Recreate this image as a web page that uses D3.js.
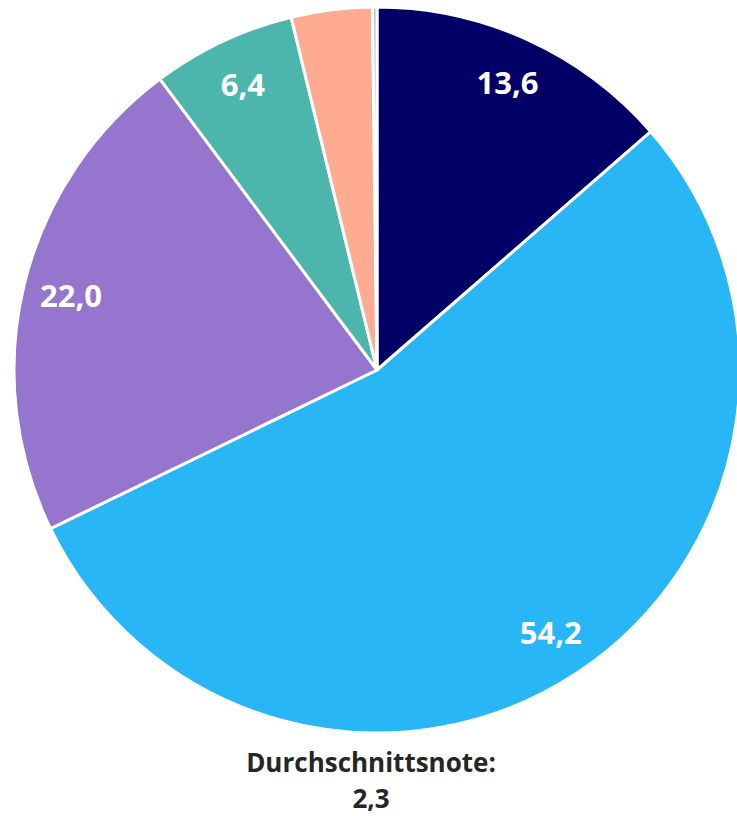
<!DOCTYPE html>
<html>
<head>
<meta charset="utf-8">
<script src="https://cdn.jsdelivr.net/npm/d3@7"></script>
<style>
    html, body { margin: 0; padding: 0; background: #fff; }
    svg { display: block; }
</style>
</head>
<body>
<div id="chart"></div>
<script>
// Slice data, clockwise from 12 o'clock
const categories = ['1', '2', '3', '4', '5', '6'];
const values = [13.6, 54.2, 22.0, 6.4, 3.6, 0.2];
const labels = ['13,6', '54,2', '22,0', '6,4', '', ''];
const colors = ['#000066', '#29B6F6', '#9575CD', '#4DB6AC', '#FFAB91', '#BDBDBD'];
const footerLines = ['Durchschnittsnote:', '2,3'];

const width = 737;
const height = 816;
const cx = 377;
const cy = 370;
const radius = 363;
const labelRadius = 315;

const svg = d3.select('#chart')
    .append('svg')
    .attr('width', width)
    .attr('height', height);

const data = categories.map((c, i) => ({ cat: c, value: values[i], label: labels[i], color: colors[i] }));

const pie = d3.pie()
    .value(d => d.value)
    .sort(null);

const arc = d3.arc()
    .innerRadius(0)
    .outerRadius(radius);

const labelArc = d3.arc()
    .innerRadius(labelRadius)
    .outerRadius(labelRadius);

const g = svg.append('g')
    .attr('transform', `translate(${cx},${cy})`);

const arcs = pie(data);

// Slices
g.selectAll('path')
    .data(arcs)
    .join('path')
    .attr('d', arc)
    .attr('fill', d => d.data.color)
    .attr('stroke', '#fff')
    .attr('stroke-width', 3)
    .attr('stroke-linejoin', 'round');

// Value labels
g.selectAll('text')
    .data(arcs.filter(d => d.data.label))
    .join('text')
    .attr('transform', d => `translate(${labelArc.centroid(d)})`)
    .attr('text-anchor', 'middle')
    .attr('dy', '0.36em')
    .attr('fill', '#fff')
    .style('font-family', '"Open Sans", Lato, sans-serif')
    .style('font-weight', 700)
    .style('font-size', '31px')
    .text(d => d.data.label);

// Footer
svg.append('g')
    .selectAll('text')
    .data(footerLines)
    .join('text')
    .attr('x', 371)
    .attr('y', (d, i) => 772 + i * 36)
    .attr('text-anchor', 'middle')
    .attr('fill', '#262626')
    .style('font-family', '"Open Sans", Lato, sans-serif')
    .style('font-weight', 700)
    .style('font-size', '26px')
    .text(d => d);
</script>
</body>
</html>
